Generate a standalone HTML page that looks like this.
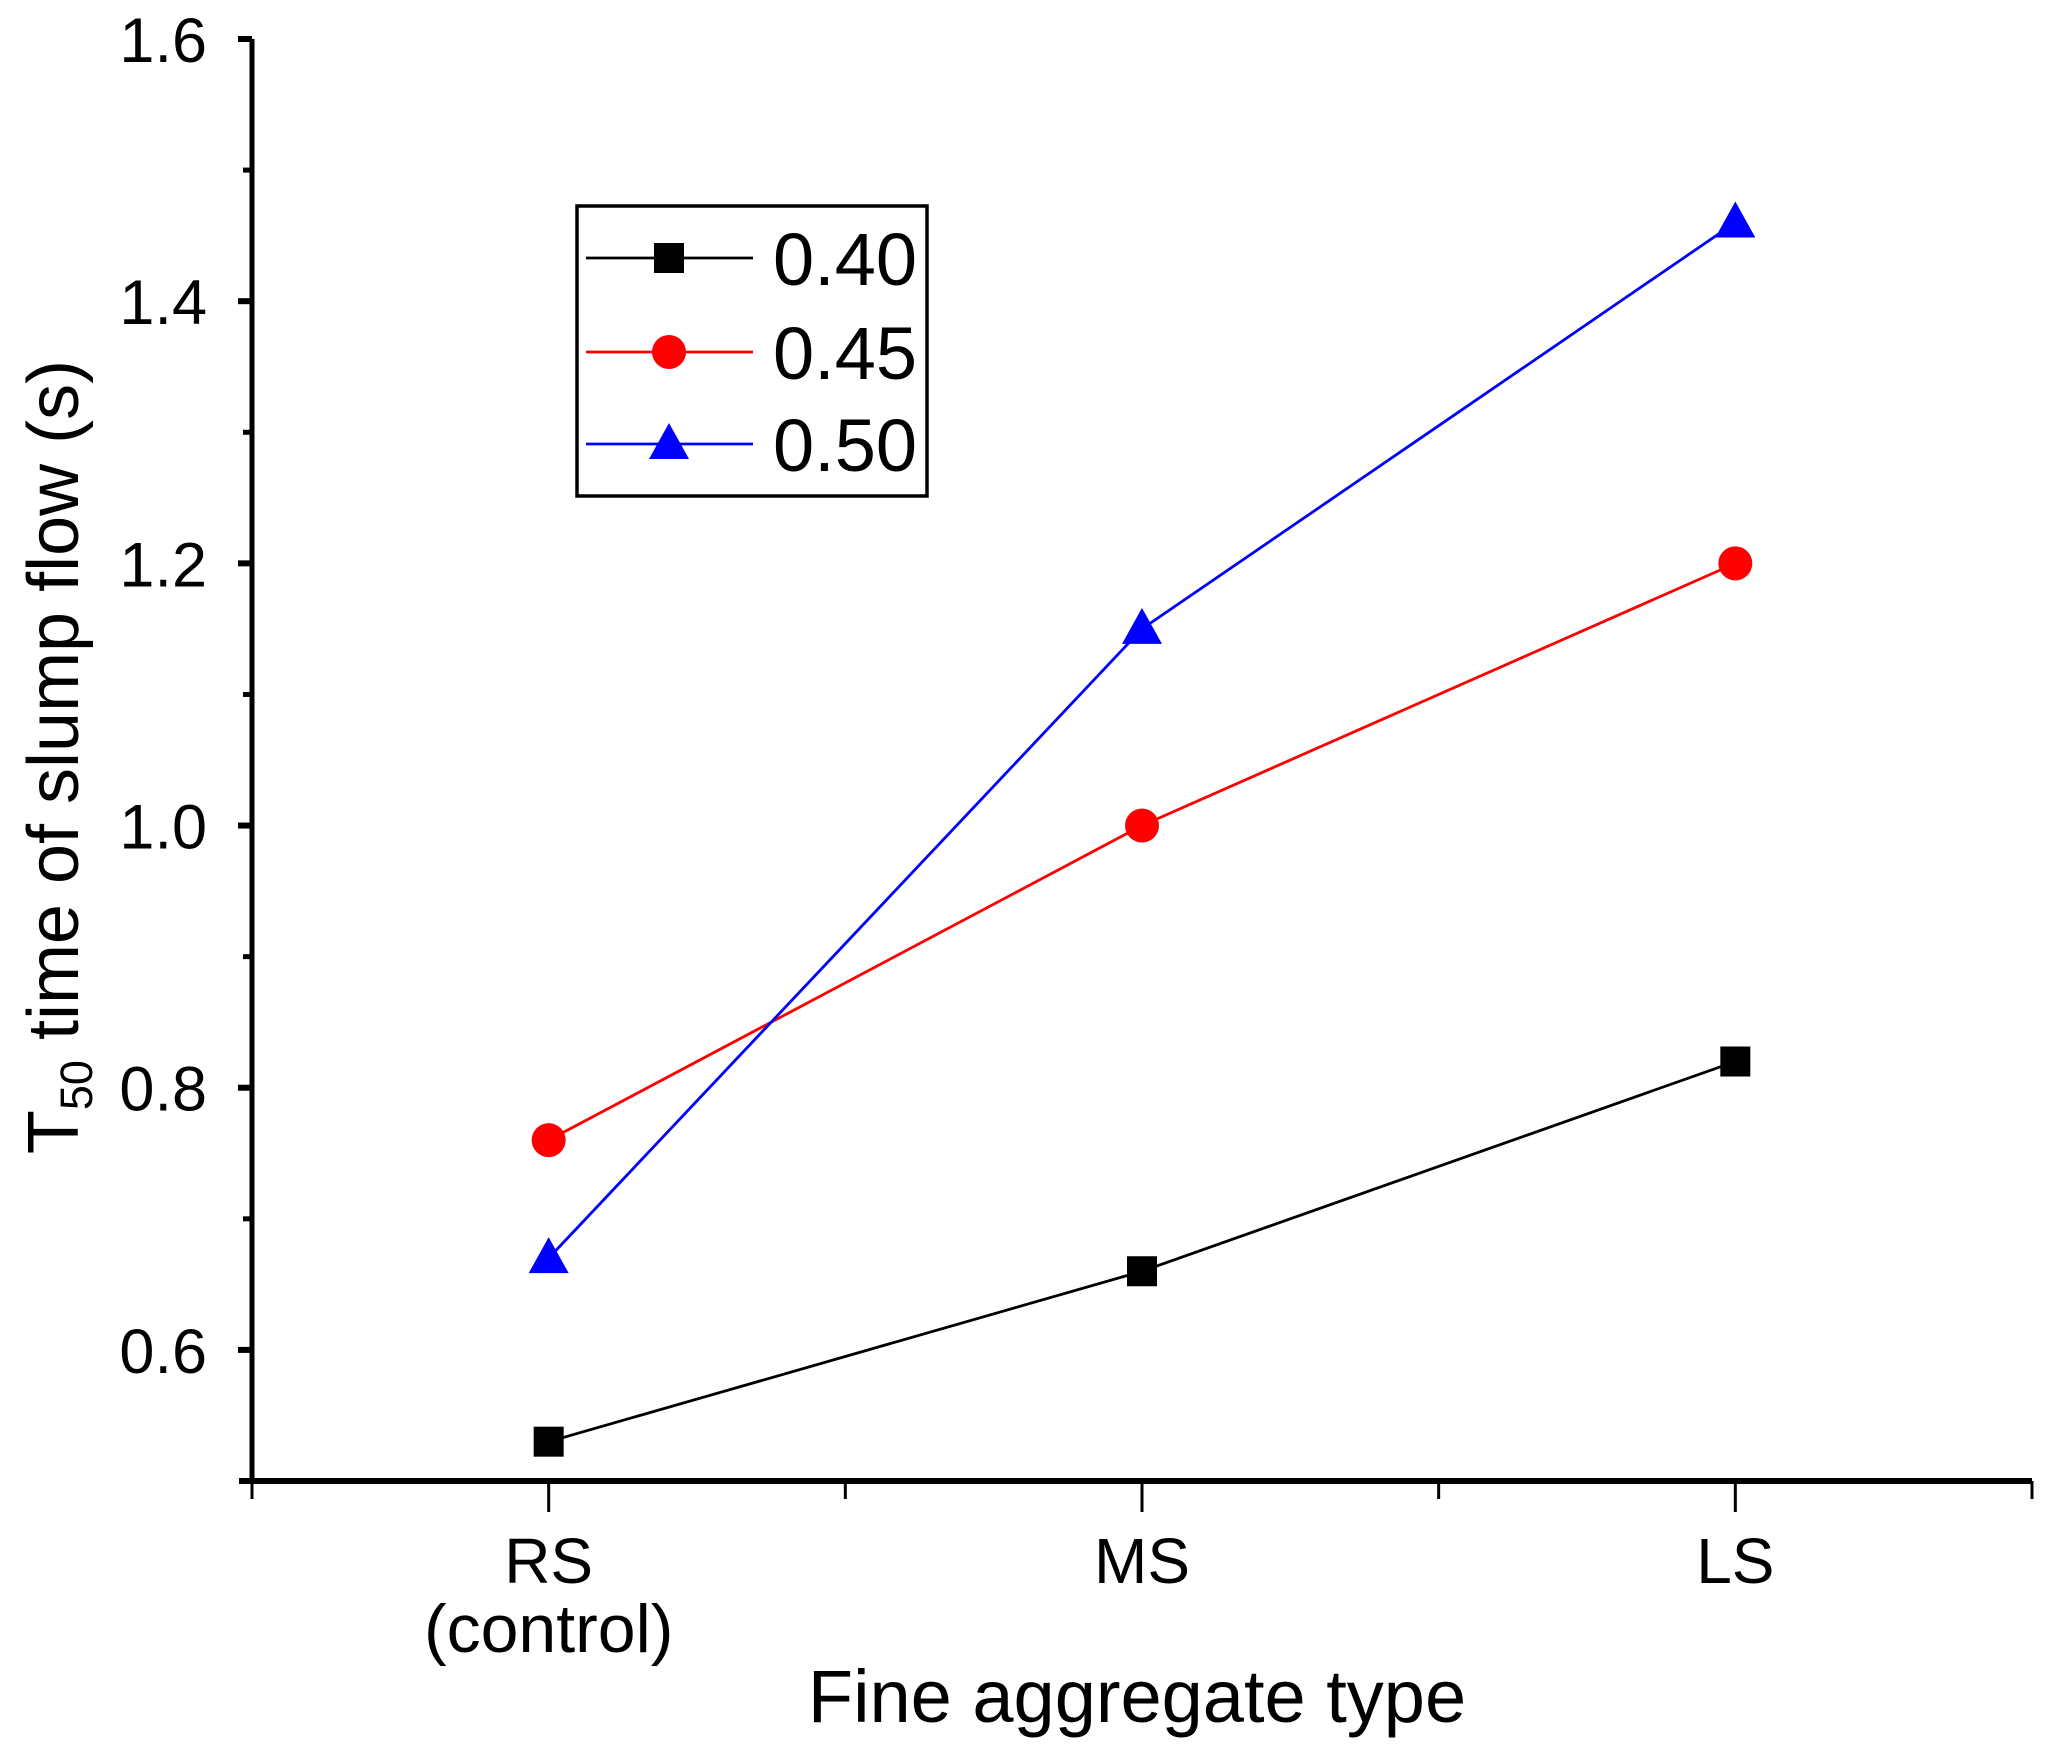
<!DOCTYPE html>
<html><head><meta charset="utf-8"><style>
html,body{margin:0;padding:0;background:#fff;}
svg{display:block;font-family:"Liberation Sans",Arial,sans-serif;}
</style></head><body>
<svg id="chart" width="2046" height="1754" viewBox="0 0 2046 1754" xmlns="http://www.w3.org/2000/svg">
<g id="axes"></g>
<g id="series"></g>
<g id="legend"></g>
</svg>
<script>
const categories = ["RS", "MS", "LS"];
const categorySub = ["(control)", "", ""];
const seriesNames = ["0.40", "0.45", "0.50"];
const s040 = [0.53, 0.66, 0.82];
const s045 = [0.76, 1.00, 1.20];
const s050 = [0.67, 1.15, 1.46];
const yTicks = [0.6, 0.8, 1.0, 1.2, 1.4, 1.6];
const yMinor = [0.7, 0.9, 1.1, 1.3, 1.5];

const NS = "http://www.w3.org/2000/svg";
const X0 = 252, X1 = 2032, Y0 = 1481, Y1 = 39;
const yMin = 0.5, yMax = 1.6;
function y(v){ return Y0 - (v - yMin) / (yMax - yMin) * (Y0 - Y1); }
function xc(i){ const step = (X1 - X0) / 6; return X0 + step * (1 + 2 * i); }
function el(tag, attrs, parent){ const e = document.createElementNS(NS, tag); for (const k in attrs) e.setAttribute(k, attrs[k]); parent.appendChild(e); return e; }

const axes = document.getElementById('axes');
let a = el('line', {x1:X0, y1:Y1, x2:X0, y2:Y0+3, stroke:'#000','stroke-width':5}, axes);


a = el('line', {x1:X0-13, y1:Y0, x2:X1, y2:Y0, stroke:'#000','stroke-width':6}, axes);



yTicks.forEach(v => {
  const t = el('line', {x1:X0-14, y1:y(v), x2:X0, y2:y(v), stroke:'#000','stroke-width':6}, axes);
  
  
  const l = el('text', {x:X0-45, y:y(v)+23, 'text-anchor':'end','font-size':63}, axes);
  l.textContent = v.toFixed(1);
  
  
});
yMinor.forEach(v => {
  const t = el('line', {x1:X0-9, y1:y(v), x2:X0, y2:y(v), stroke:'#000','stroke-width':5}, axes);
  
  
});
const step = (X1 - X0) / 6;
for (let k = 0; k <= 6; k++) {
  const major = k % 2 === 1;
  const t = el('line', {x1:X0+step*k, y1:Y0, x2:X0+step*k, y2:Y0+(major?31:18), stroke:'#000','stroke-width':3}, axes);
  
  
}
categories.forEach((c, i) => {
  const l = el('text', {x:xc(i), y:1583, 'text-anchor':'middle','font-size':64}, axes);
  l.textContent = c;
  
  
  if (categorySub[i]) {
    const s = el('text', {x:xc(i), y:1652, 'text-anchor':'middle','font-size':68}, axes);
    s.textContent = categorySub[i];
    
    
  }
});
let xt = el('text', {x:1137, y:1722, 'text-anchor':'middle','font-size':74}, axes);
xt.textContent = 'Fine aggregate type';


let yt = el('text', {x:0, y:0, 'text-anchor':'middle','font-size':72, transform:'translate(78,757) rotate(-90)'}, axes);
yt.innerHTML = 'T<tspan font-size="45" dy="14">50</tspan><tspan dy="-14"> time of slump flow (s)</tspan>';



const colors = ['#000', '#f00', '#00f'];
const shapes = ['square', 'circle', 'triangle'];
function marker(shape, cx, cy, color, parent){
  let m;
  if (shape === 'square') m = el('rect', {x:cx-15, y:cy-15, width:30, height:30, fill:color}, parent);
  else if (shape === 'circle') m = el('circle', {cx:cx, cy:cy, r:17, fill:color}, parent);
  else m = el('polygon', {points:`${cx},${cy-21} ${cx-20},${cy+15} ${cx+20},${cy+15}`, fill:color}, parent);
  return m;
}
const seriesG = document.getElementById('series');
[s040, s045, s050].forEach((data, si) => {
  const g = el('g', {}, seriesG);
  
  
  const pl = el('polyline', {points: data.map((v,i)=>xc(i)+','+y(v)).join(' '), fill:'none', stroke:colors[si], 'stroke-width':2.8}, g);
  
  
  data.forEach((v,i) => {
    const m = marker(shapes[si], xc(i), y(v), colors[si], g);
    
    
  });
});

const lg = document.getElementById('legend');
const box = el('rect', {x:577, y:206, width:350, height:290, fill:'#fff', stroke:'#000','stroke-width':3.5}, lg);


const rowsY = [258, 352, 444];
seriesNames.forEach((n, si) => {
  const g = el('g', {}, lg);
  
  
  el('line', {x1:586, y1:rowsY[si], x2:753, y2:rowsY[si], stroke:colors[si], 'stroke-width':2.8}, g);
  marker(shapes[si], 669, rowsY[si], colors[si], g);
  const t = el('text', {x:773, y:rowsY[si]+27, 'font-size':74}, g);
  t.textContent = n;
});
</script>
</body></html>
